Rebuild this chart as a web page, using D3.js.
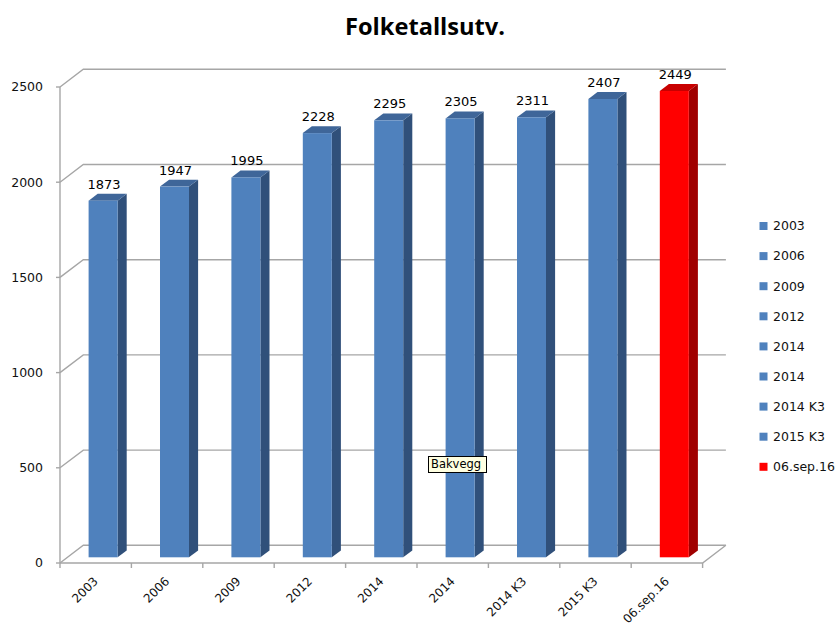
<!DOCTYPE html>
<html>
<head>
<meta charset="utf-8">
<script src="https://cdn.jsdelivr.net/npm/d3@7"></script>
<style>
  html, body { margin: 0; padding: 0; background: #fff; }
  svg { display: block; }
</style>
</head>
<body>
<svg id="chart" width="837" height="627"></svg>
<script>
const title = "Folketallsutv.";
const categories = ["2003", "2006", "2009", "2012", "2014", "2014", "2014 K3", "2015 K3", "06.sep.16"];
const values = [1873, 1947, 1995, 2228, 2295, 2305, 2311, 2407, 2449];
const seriesColors = ["#4F81BD", "#4F81BD", "#4F81BD", "#4F81BD", "#4F81BD", "#4F81BD", "#4F81BD", "#4F81BD", "#FF0000"];
const sideColors = ["#30507A", "#30507A", "#30507A", "#30507A", "#30507A", "#30507A", "#30507A", "#30507A", "#A00000"];
const topColors = ["#3F6699", "#3F6699", "#3F6699", "#3F6699", "#3F6699", "#3F6699", "#3F6699", "#3F6699", "#C80000"];
const yTicks = [0, 500, 1000, 1500, 2000, 2500];
const tooltipText = "Bakvegg";

const svg = d3.select("#chart");
const font = "'DejaVu Sans', sans-serif";

// geometry
const plotLeft = 60, plotRight = 702.6, plotBottom = 563, plotTop = 87;
const wall = { dx: 23.3, dy: -17.7 };           // back wall offset
const barFront = { dx: 7.4, dy: -5.7 };         // bar front plane
const barDepth = { dx: 9.1, dy: -6.9 };         // bar depth
const barW = 29;

const x = d3.scaleBand().domain(d3.range(categories.length)).range([plotLeft, plotRight]).padding(0);
const y = d3.scaleLinear().domain([0, 2500]).range([plotBottom, plotTop]);

// title
svg.append("text")
  .attr("x", 425).attr("y", 35)
  .attr("text-anchor", "middle")
  .attr("font-family", "'Open Sans', sans-serif")
  .attr("font-weight", "bold")
  .attr("font-size", 24)
  .attr("textLength", 160)
  .attr("lengthAdjust", "spacingAndGlyphs")
  .attr("fill", "#000")
  .text(title);

const gridColor = "#A6A6A6";
const grid = svg.append("g").attr("fill", "none").attr("stroke", gridColor).attr("stroke-width", 1.4);

// gridlines on left wall + back wall
yTicks.forEach(t => {
  const yy = y(t);
  grid.append("path")
    .attr("d", `M${plotLeft},${yy}L${plotLeft + wall.dx},${yy + wall.dy}L${plotRight + wall.dx},${yy + wall.dy}`);
  grid.append("line").attr("x1", plotLeft - 4).attr("x2", plotLeft).attr("y1", yy).attr("y2", yy);
});

// front vertical axis
grid.append("line").attr("x1", plotLeft).attr("x2", plotLeft).attr("y1", plotTop).attr("y2", plotBottom);
// floor front edge and right diagonal
grid.append("path").attr("d", `M${plotLeft},${plotBottom}L${plotRight},${plotBottom}L${plotRight + wall.dx},${plotBottom + wall.dy}`);
// x tick marks
d3.range(categories.length + 1).forEach(i => {
  const xx = plotLeft + i * x.step();
  grid.append("line").attr("x1", xx).attr("x2", xx).attr("y1", plotBottom).attr("y2", plotBottom + 5);
});

// y labels
svg.append("g").selectAll("text").data(yTicks).join("text")
  .attr("x", 43).attr("y", d => y(d))
  .attr("dy", "0.35em")
  .attr("text-anchor", "end")
  .attr("font-family", font).attr("font-size", 12.5).attr("fill", "#111")
  .text(d => d);

// bars
const bars = svg.append("g");
values.forEach((v, i) => {
  const cx = x(i) + x.bandwidth() / 2;
  const x0 = cx - barW / 2 + barFront.dx;
  const x1 = x0 + barW;
  const yb = y(0) + barFront.dy;
  const yt = y(v) + barFront.dy;
  const g = bars.append("g");
  g.append("path")
    .attr("d", `M${x1},${yb}L${x1},${yt}L${x1 + barDepth.dx},${yt + barDepth.dy}L${x1 + barDepth.dx},${yb + barDepth.dy}Z`)
    .attr("fill", sideColors[i]);
  g.append("path")
    .attr("d", `M${x0},${yt}L${x1},${yt}L${x1 + barDepth.dx},${yt + barDepth.dy}L${x0 + barDepth.dx},${yt + barDepth.dy}Z`)
    .attr("fill", topColors[i]);
  g.append("rect")
    .attr("x", x0).attr("y", yt).attr("width", barW).attr("height", yb - yt)
    .attr("fill", seriesColors[i]);
  g.append("text")
    .attr("x", x0 + barW / 2 + 1).attr("y", yt - 12)
    .attr("text-anchor", "middle")
    .attr("font-family", font).attr("font-size", 13).attr("fill", "#000")
    .text(v);
});

// x labels
svg.append("g").selectAll("text").data(categories).join("text")
  .attr("transform", (d, i) => `translate(${x(i) + x.bandwidth() / 2 + 3},${plotBottom + 19}) rotate(-45)`)
  .attr("text-anchor", "end")
  .attr("font-family", font).attr("font-size", 12).attr("fill", "#111")
  .text(d => d);

// legend
const legend = svg.append("g");
categories.forEach((c, i) => {
  const yy = 226 + i * 30.1;
  legend.append("rect").attr("x", 759.5).attr("y", yy - 4).attr("width", 8).attr("height", 8).attr("fill", seriesColors[i]);
  legend.append("text").attr("x", 773).attr("y", yy).attr("dy", "0.35em")
    .attr("font-family", font).attr("font-size", 12.5).attr("fill", "#111").text(c);
});

// tooltip
const tip = svg.append("g");
tip.append("rect").attr("x", 428.5).attr("y", 456.5).attr("width", 58).attr("height", 16)
  .attr("fill", "#FFFFE1").attr("stroke", "#000").attr("stroke-width", 1);
tip.append("text").attr("x", 431).attr("y", 468)
  .attr("font-family", font).attr("font-size", 11.5).attr("fill", "#000").text(tooltipText);
</script>
</body>
</html>
